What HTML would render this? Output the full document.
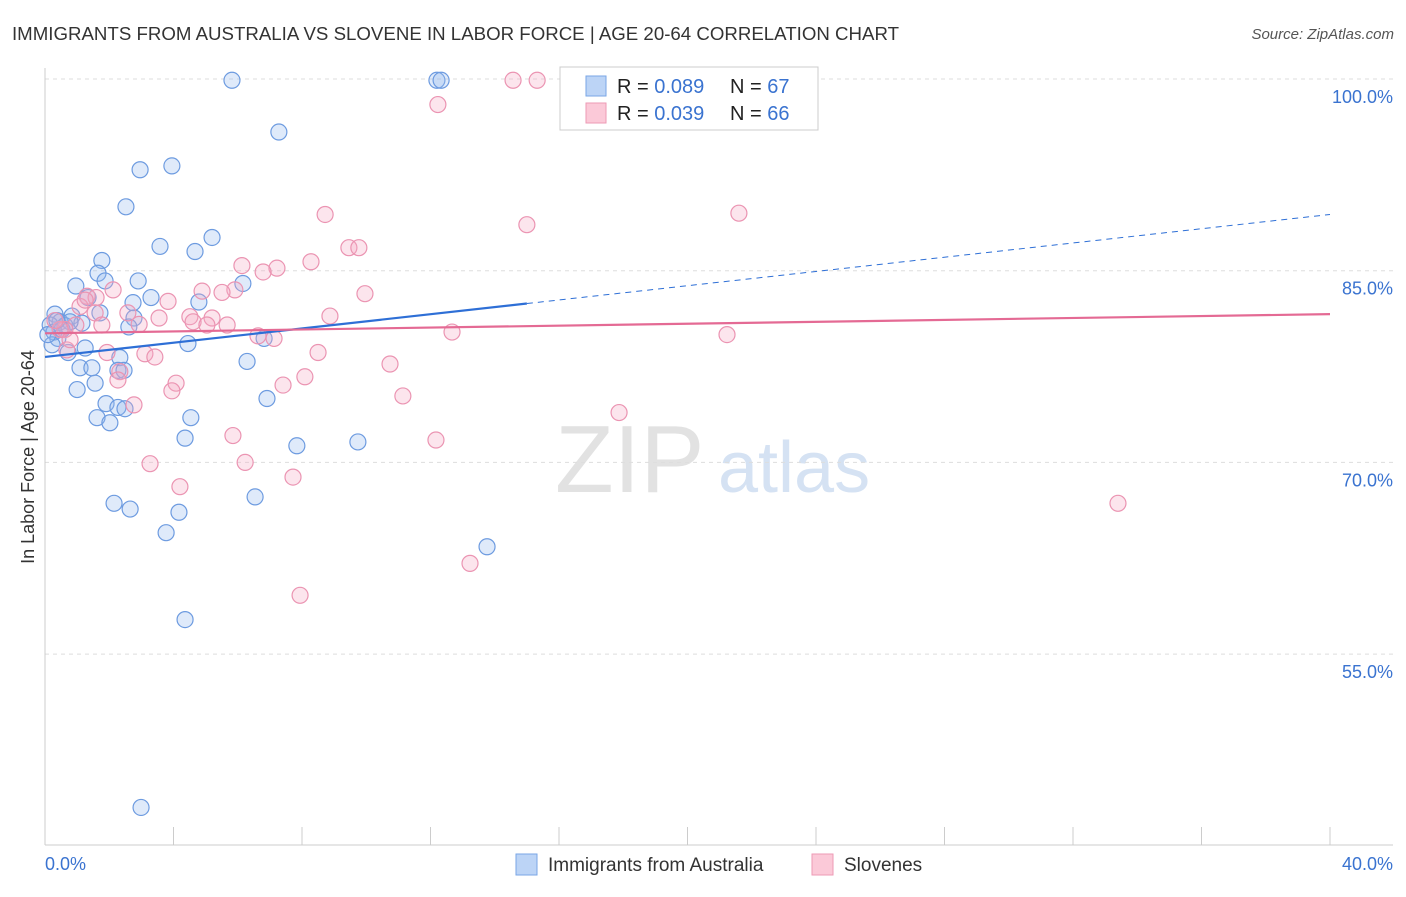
<!DOCTYPE html>
<html><head><meta charset="utf-8"><style>
body{margin:0;background:#fff;font-family:"Liberation Sans",sans-serif}
svg text{font-family:"Liberation Sans",sans-serif}
</style></head><body>
<svg id="c" width="1406" height="892">
<text x="12" y="40" font-size="18" fill="#333" textLength="887" lengthAdjust="spacingAndGlyphs">IMMIGRANTS FROM AUSTRALIA VS SLOVENE IN LABOR FORCE | AGE 20-64 CORRELATION CHART</text>
<text x="1394" y="39" font-size="15" fill="#555" font-style="italic" text-anchor="end">Source: ZipAtlas.com</text>
<text x="34" y="457" font-size="18" fill="#333" text-anchor="middle" transform="rotate(-90 34 457)">In Labor Force | Age 20-64</text>
<text x="555" y="492" font-size="96" fill="#e2e2e2" font-family="Liberation Serif">ZIP</text>
<text x="718" y="492" font-size="72" fill="#d5e2f3">atlas</text>
<g id="grid"></g><g id="pts"></g><g id="lines"></g>
<g>
<rect x="560" y="67" width="258" height="63" fill="#fff" stroke="#ccc"/>
<rect x="586" y="76" width="20" height="20" fill="#bcd4f6" stroke="#7aa6e6"/>
<rect x="586" y="103" width="20" height="20" fill="#fbc9d8" stroke="#ee9ab5"/>
<text x="617" y="93" font-size="20" fill="#222">R = <tspan fill="#3a73d0">0.089</tspan></text>
<text x="730" y="93" font-size="20" fill="#222">N = <tspan fill="#3a73d0">67</tspan></text>
<text x="617" y="120" font-size="20" fill="#222">R = <tspan fill="#3a73d0">0.039</tspan></text>
<text x="730" y="120" font-size="20" fill="#222">N = <tspan fill="#3a73d0">66</tspan></text>
</g>
<g>
<rect x="516" y="854" width="21" height="21" fill="#bcd4f6" stroke="#7aa6e6"/>
<text x="548" y="871" font-size="19" fill="#333">Immigrants from Australia</text>
<rect x="812" y="854" width="21" height="21" fill="#fbc9d8" stroke="#ee9ab5"/>
<text x="844" y="871" font-size="19" fill="#333">Slovenes</text>
</g>
</svg>
<script>
const yTicks=[100,85,70,55];
const yTickLabels=["100.0%","85.0%","70.0%","55.0%"];
const xEndLabels=["0.0%","40.0%"];
const blueX=[5.82,12.2,12.33,7.28,2.96,3.95,2.52,5.2,3.58,4.67,1.77,1.65,1.87,2.9,0.96,6.16,1.34,3.3,2.74,4.79,0.31,0.84,1.71,2.77,0.47,1.15,0.16,0.62,2.61,0.28,0.4,6.82,4.45,0.22,1.25,0.72,2.33,6.29,1.09,1.46,2.27,2.46,1.56,1.0,6.91,1.9,2.27,2.49,4.54,1.62,2.02,4.36,7.84,9.74,6.54,2.15,2.65,4.17,3.77,13.76,4.36,2.99,0.78,0.53,0.09,0.37];
const blueY=[99.9,99.9,99.9,95.85,92.9,93.2,90.0,87.6,86.9,86.5,85.8,84.8,84.2,84.2,83.8,84.0,82.9,82.9,82.5,82.55,81.6,81.45,81.7,81.3,81.0,80.9,80.75,80.7,80.6,80.2,79.7,79.7,79.3,79.2,78.95,78.6,78.2,77.9,77.4,77.4,77.2,77.2,76.2,75.7,75.0,74.6,74.3,74.2,73.5,73.5,73.1,71.9,71.3,71.6,67.3,66.8,66.35,66.1,64.5,63.4,57.7,43.0,81.0,80.4,80.0,81.1];
const pinkX=[14.57,15.32,12.23,21.6,8.72,15.0,9.46,9.77,6.13,8.28,7.22,6.79,9.96,1.31,2.12,4.89,5.91,1.59,5.51,3.83,1.09,2.58,1.56,4.51,5.2,3.55,8.87,4.61,5.04,2.93,5.67,1.77,0.96,0.62,12.67,21.23,6.63,7.13,1.93,3.11,3.42,8.5,0.68,10.74,2.33,2.27,8.09,4.08,7.41,3.95,11.14,2.77,17.87,5.85,12.17,3.27,6.23,7.72,4.2,33.4,13.23,7.94,0.47,0.31,0.78,1.25];
const pinkY=[99.9,99.9,98.0,89.5,89.4,88.6,86.8,86.8,85.4,85.7,85.2,84.9,83.2,83.0,83.5,83.4,83.5,82.9,83.3,82.6,82.2,81.7,81.7,81.4,81.3,81.3,81.45,81.0,80.75,80.8,80.75,80.75,80.75,80.4,80.2,80.0,79.9,79.7,78.6,78.5,78.25,78.6,78.8,77.7,77.1,76.45,76.7,76.2,76.05,75.6,75.2,74.5,73.9,72.1,71.75,69.9,70.0,68.85,68.1,66.8,62.1,59.6,80.4,81.1,79.6,82.7];
const blueTrend=[78.25,89.4];const blueSolidEnd=15;
const pinkTrend=[80.1,81.6];
const X=v=>45+v*32.125, Y=v=>79+(100-v)*12.78;
const NS="http://www.w3.org/2000/svg";
function mk(t,a,p){const e=document.createElementNS(NS,t);for(const k in a)e.setAttribute(k,a[k]);p.appendChild(e);return e;}
const g=document.getElementById('grid');
yTicks.forEach((t,i)=>{
 const l=mk('line',{x1:45,x2:1393,y1:Y(t),y2:Y(t),stroke:'#ddd','stroke-dasharray':'4,4'},g);
 
 
 const tx=mk('text',{x:1393,y:Y(t)+24,'font-size':18,fill:'#3a73d0','text-anchor':'end'},g);tx.textContent=yTickLabels[i];
 
 
});
const ax=mk('line',{x1:45,x2:45,y1:68,y2:845,stroke:'#ccc'},g);


const bx=mk('line',{x1:45,x2:1393,y1:845,y2:845,stroke:'#ccc'},g);


for(let i=1;i<=10;i++){const t=mk('line',{x1:X(i*4),x2:X(i*4),y1:827,y2:845,stroke:'#ccc'},g);
 
 }
[[0,'start'],[40,'end']].forEach((d,i)=>{const t=mk('text',{x:i?1393:45,y:870,'font-size':18,fill:'#3a73d0','text-anchor':d[1]},g);t.textContent=xEndLabels[i];
 
 });
const p=document.getElementById('pts');
blueX.forEach((x,i)=>{const c=mk('circle',{cx:X(x),cy:Y(blueY[i]),r:8,fill:'rgba(150,185,240,0.3)',stroke:'#6d9be0','stroke-width':1.2},p);
 
 });
pinkX.forEach((x,i)=>{const c=mk('circle',{cx:X(x),cy:Y(pinkY[i]),r:8,fill:'rgba(245,170,195,0.3)',stroke:'#eb94b2','stroke-width':1.2},p);
 
 });
const L=document.getElementById('lines');
const by=v=>blueTrend[0]+(blueTrend[1]-blueTrend[0])*v/40;
const b1=mk('line',{x1:X(0),y1:Y(by(0)),x2:X(blueSolidEnd),y2:Y(by(blueSolidEnd)),stroke:'#2e6fd6','stroke-width':2.2},L);


const b2=mk('line',{x1:X(blueSolidEnd),y1:Y(by(blueSolidEnd)),x2:X(40),y2:Y(by(40)),stroke:'#2e6fd6','stroke-width':1,'stroke-dasharray':'6,5'},L);


const p1=mk('line',{x1:X(0),y1:Y(pinkTrend[0]),x2:X(40),y2:Y(pinkTrend[1]),stroke:'#e46a94','stroke-width':2.2},L);


</script>
</body></html>
